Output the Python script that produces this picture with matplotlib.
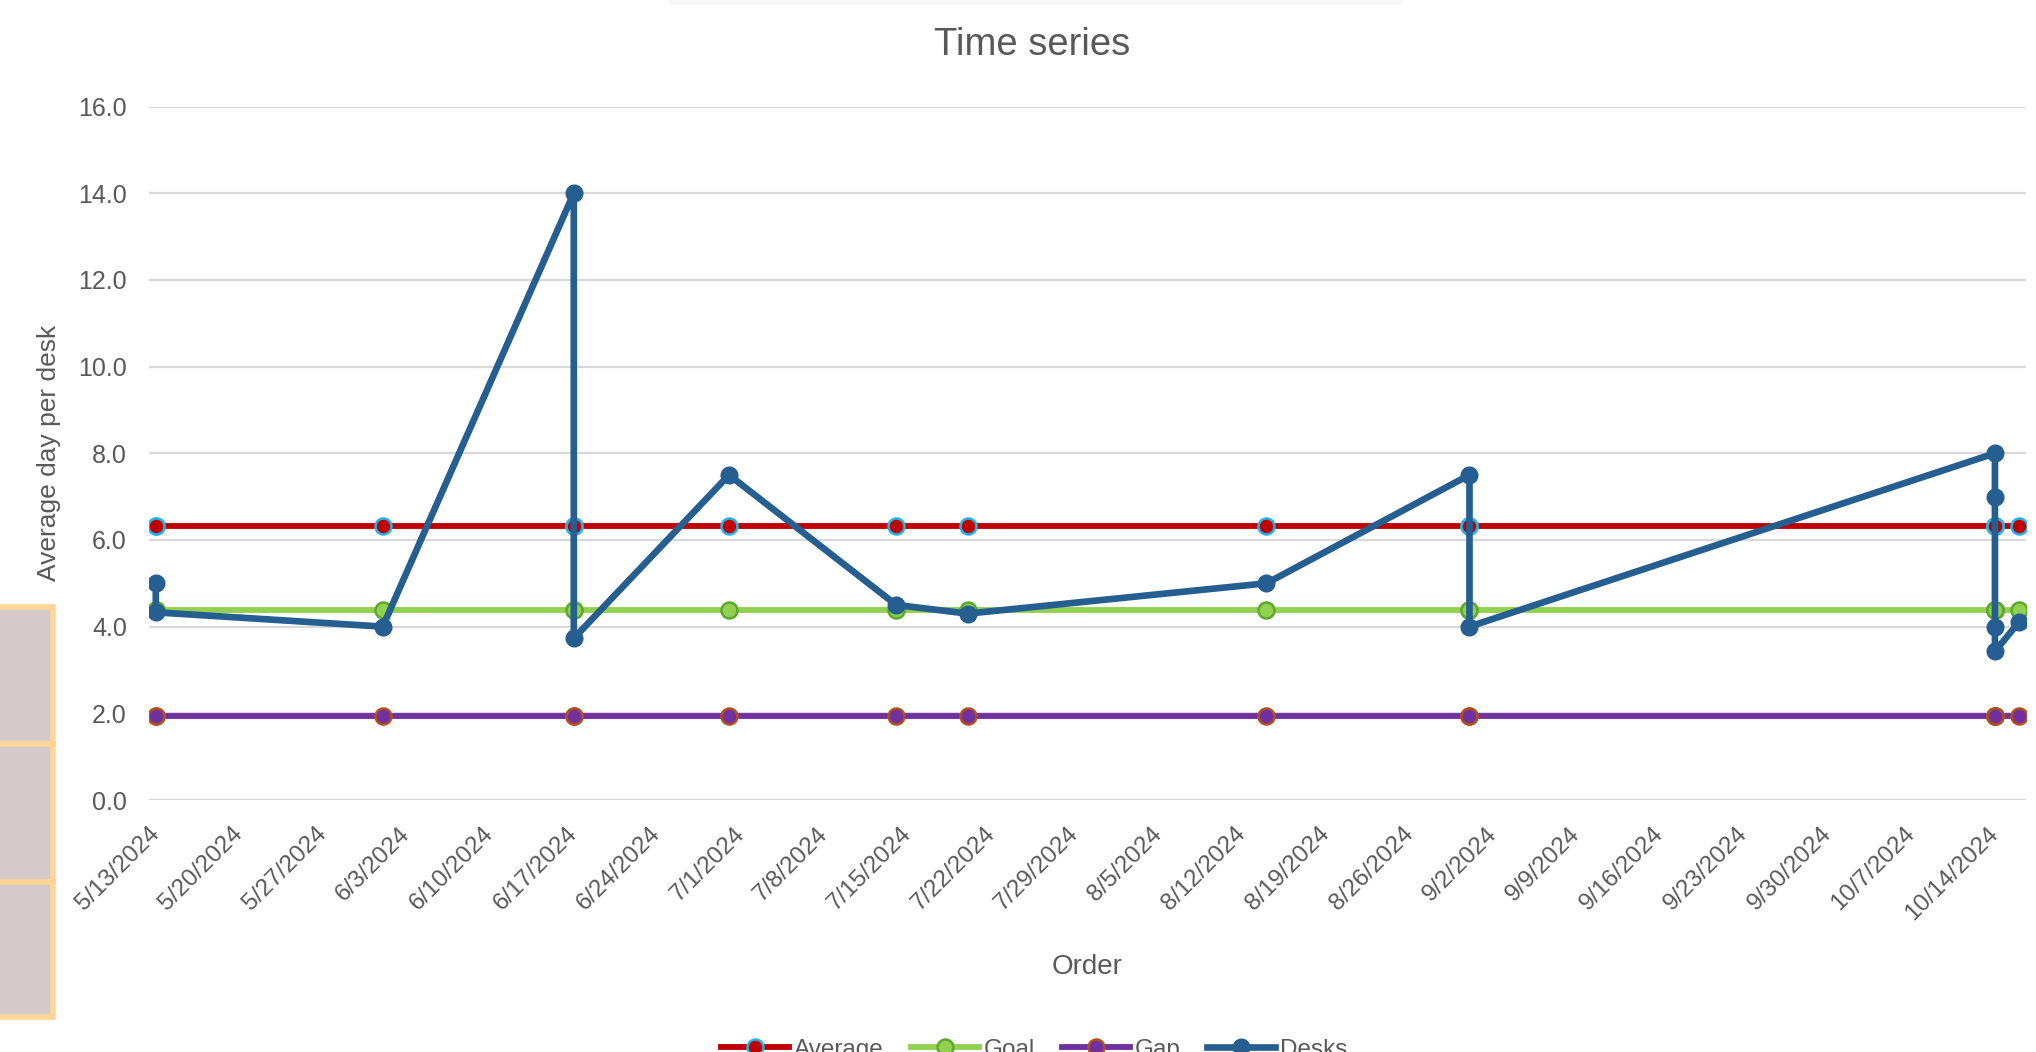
import matplotlib
matplotlib.use("Agg")
import matplotlib.pyplot as plt
import matplotlib.dates as mdates
from matplotlib.patches import Rectangle
from matplotlib.ticker import FuncFormatter, FixedLocator
import pandas as pd

plt.rcParams['font.family'] = ['Liberation Sans', 'DejaVu Sans']

# data
dates = ['2024-05-13', '2024-05-13', '2024-06-01', '2024-06-17', '2024-06-17',
         '2024-06-30', '2024-07-14', '2024-07-20', '2024-08-14', '2024-08-31',
         '2024-08-31', '2024-10-14', '2024-10-14', '2024-10-14', '2024-10-14',
         '2024-10-16']
desks = [5.0, 4.33, 4.0, 14.0, 3.73, 7.5, 4.5, 4.3, 5.0, 7.5, 4.0,
         8.0, 7.0, 4.0, 3.43, 4.1]
average = [6.32, 6.32, 6.32, 6.32, 6.32, 6.32, 6.32, 6.32, 6.32, 6.32, 6.32,
           6.32, 6.32, 6.32, 6.32, 6.32]
goal = [4.38, 4.38, 4.38, 4.38, 4.38, 4.38, 4.38, 4.38, 4.38, 4.38, 4.38,
        4.38, 4.38, 4.38, 4.38, 4.38]
gap = [1.94, 1.94, 1.94, 1.94, 1.94, 1.94, 1.94, 1.94, 1.94, 1.94, 1.94,
       1.94, 1.94, 1.94, 1.94, 1.94]
tick_dates = pd.date_range('2024-05-13', '2024-10-14', freq='7D')
y_ticks = [0, 2, 4, 6, 8, 10, 12, 14, 16]

x = pd.to_datetime(dates)
txt = '#595959'

fig = plt.figure(figsize=(20.36, 10.52), dpi=100)
ax = fig.add_axes([149 / 2036, 1 - 800 / 1052, 1877 / 2036, 693.5 / 1052])

ax.plot(x, average, color='#C00000', lw=4.2, marker='o', ms=11.5,
        mfc='#C00000', mec='#1FB5E8', mew=1.8, label='Average', zorder=3)
ax.plot(x, goal, color='#92D050', lw=4.2, marker='o', ms=11.5,
        mfc='#92D050', mec='#5BAA2E', mew=1.8, label='Goal', zorder=3)
ax.plot(x, gap, color='#7030A0', lw=4.2, marker='o', ms=11.5,
        mfc='#7030A0', mec='#B0501E', mew=1.8, label='Gap', zorder=3)
ax.plot(x, desks, color='#255E91', lw=4.8, marker='o', ms=12,
        mfc='#255E91', mec='#255E91', label='Desks', zorder=4)

ax.set_ylim(0, 16)
ax.set_xlim(pd.Timestamp('2024-05-13') - pd.Timedelta(days=0.57),
            pd.Timestamp('2024-05-13') + pd.Timedelta(days=156.6))
ax.yaxis.set_major_locator(FixedLocator(y_ticks))
ax.yaxis.set_major_formatter(FuncFormatter(lambda v, p: f'{v:.1f}'))
ax.xaxis.set_major_locator(FixedLocator(mdates.date2num(tick_dates)))


def fmt_date(v, p):
    d = mdates.num2date(v)
    return f'{d.month}/{d.day}/{d.year}'


ax.xaxis.set_major_formatter(FuncFormatter(fmt_date))
ax.grid(axis='y', color='#D9D9D9', lw=1.6)
ax.set_axisbelow(True)
for s in ax.spines.values():
    s.set_visible(False)
ax.tick_params(axis='y', length=0, pad=16, labelsize=18, labelcolor=txt)
ax.tick_params(axis='x', length=0, pad=22, labelsize=17.5, labelcolor=txt)
for lbl in ax.get_xticklabels():
    lbl.set_rotation(45)
    lbl.set_ha('right')
    lbl.set_va('center')
    lbl.set_rotation_mode('anchor')

ax.set_ylabel('Average day per desk', fontsize=19, color=txt)
ax.yaxis.set_label_coords(-0.047, 0.5)
ax.set_xlabel('Order', fontsize=20, color=txt)
ax.xaxis.set_label_coords(0.5, -0.222)

fig.text(0.507, 0.957, 'Time series', ha='center', va='center',
         fontsize=27.5, color=txt)

# legend sits partly below the bottom edge, as in the source screenshot
fig.legend(loc='center', bbox_to_anchor=(0.508, 0.002), ncol=4,
           frameon=False, fontsize=17.5, handlelength=2.8, handletextpad=0.2,
           columnspacing=1.1, numpoints=1, labelcolor=txt)

# spreadsheet cells peeking in at the left edge
for y0, y1 in [(607, 744), (744, 882), (882, 1017)]:
    fig.add_artist(Rectangle((-10 / 2036, 1 - y1 / 1052), 63 / 2036,
                             (y1 - y0) / 1052, transform=fig.transFigure,
                             facecolor='#D5CACB', edgecolor='#FFD596', lw=4))
fig.add_artist(Rectangle((669 / 2036, 1 - 5 / 1052), 733 / 2036, 5 / 1052,
                         transform=fig.transFigure, facecolor='#F7F7F7',
                         edgecolor='none'))

fig.savefig('out.png', dpi=100)
